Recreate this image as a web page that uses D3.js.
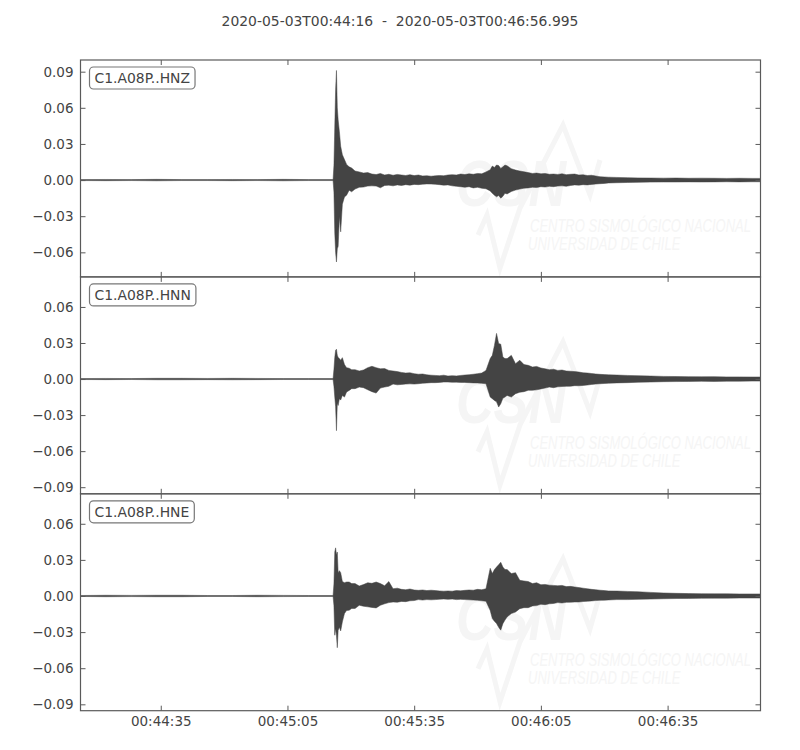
<!DOCTYPE html>
<html>
<head>
<meta charset="utf-8">
<script src="https://cdn.jsdelivr.net/npm/d3@7"></script>
<style>
body { margin: 0; background: #fff; }
svg { display: block; font-family: "DejaVu Sans", sans-serif; }
</style>
</head>
<body>
<svg id="chart" width="800" height="750"></svg>
<script>
// time window of the record
const startTime = '2020-05-03T00:44:16'
const endTime = '2020-05-03T00:46:56.995'
const channels = ['C1.A08P..HNZ', 'C1.A08P..HNN', 'C1.A08P..HNE']

const times = [
    0, 6, 12, 18, 24, 30, 36, 42, 48, 54, 59.8,
    60.0, 60.2, 60.4, 60.6, 60.8, 61.0, 61.3, 61.6, 62.0, 62.5, 63.0, 63.6, 64.2,
    65, 66, 67, 68, 69, 70, 71, 72, 73, 74, 75, 76, 77, 78, 79, 80,
    81, 82, 83, 84, 85, 86, 87, 88, 89, 90, 91, 92, 93, 94, 95, 96,
    97, 97.5, 98, 98.5, 99, 99.5, 100, 100.5, 101,
    102, 103, 104, 105, 106, 107, 108, 109, 110, 111, 112, 113,
    114, 115, 116, 117, 118, 119, 120, 121, 122, 123, 124, 125,
    127, 129.5, 132, 135, 138, 141, 144, 147, 150, 153, 156, 159, 161
]

// envelope (max / min) of each component
const hnzMax = [
    0.0004, 0.0005, 0.0004, 0.0006, 0.0004, 0.0004, 0.0005, 0.0004, 0.0006, 0.0004, 0.0004,
    0.012, 0.044, 0.075, 0.091, 0.060, 0.050, 0.040, 0.028, 0.021, 0.017, 0.013, 0.011, 0.010,
    0.0075, 0.0068, 0.0058, 0.0062, 0.0050, 0.0046, 0.0055, 0.0042, 0.0048, 0.0040, 0.0047, 0.0042, 0.0038, 0.0045, 0.0037, 0.0042,
    0.0034, 0.0036, 0.0032, 0.0035, 0.0038, 0.0036, 0.0042, 0.0045, 0.0042, 0.0050, 0.0046, 0.0052, 0.0048, 0.0055, 0.0052, 0.0068,
    0.0085, 0.0116, 0.0105, 0.0125, 0.0120, 0.0097, 0.0110, 0.0125, 0.0118,
    0.0095, 0.0083, 0.0075, 0.0069, 0.0062, 0.0055, 0.0058, 0.0052, 0.0055, 0.0048, 0.0050, 0.0047,
    0.0052, 0.0045, 0.0048, 0.0050, 0.0042, 0.0044, 0.0038, 0.0040, 0.0034, 0.0028, 0.0026, 0.0024,
    0.0022, 0.0020, 0.0018, 0.0017, 0.0016, 0.0017, 0.0015, 0.0016, 0.0015, 0.0014, 0.0015, 0.0014, 0.0014
]
const hnzMin = [
    -0.0004, -0.0005, -0.0004, -0.0006, -0.0004, -0.0004, -0.0005, -0.0004, -0.0006, -0.0004, -0.0004,
    -0.010, -0.044, -0.060, -0.068, -0.057, -0.055, -0.030, -0.043, -0.020, -0.014, -0.0125, -0.0085, -0.0097,
    -0.0075, -0.0060, -0.0058, -0.0050, -0.0048, -0.0050, -0.0064, -0.0045, -0.0042, -0.0048, -0.0040, -0.0045, -0.0038, -0.0042, -0.0036, -0.0038,
    -0.0034, -0.0032, -0.0033, -0.0035, -0.0038, -0.0042, -0.0040, -0.0048, -0.0052, -0.0055, -0.0060, -0.0055, -0.0065, -0.0060, -0.0068, -0.0072,
    -0.0090, -0.0110, -0.0125, -0.0139, -0.0128, -0.0150, -0.0135, -0.0110, -0.0115,
    -0.0095, -0.0083, -0.0075, -0.0067, -0.0065, -0.0060, -0.0062, -0.0055, -0.0058, -0.0052, -0.0055, -0.0050,
    -0.0048, -0.0052, -0.0045, -0.0040, -0.0042, -0.0038, -0.0040, -0.0036, -0.0033, -0.0030, -0.0028, -0.0024,
    -0.0022, -0.0020, -0.0019, -0.0017, -0.0016, -0.0016, -0.0015, -0.0016, -0.0015, -0.0014, -0.0015, -0.0014, -0.0014
]
const hnnMax = [
    0.0004, 0.0005, 0.0004, 0.0006, 0.0006, 0.0005, 0.0006, 0.0005, 0.0004, 0.0004, 0.0004,
    0.008, 0.018, 0.024, 0.0248, 0.0197, 0.018, 0.017, 0.0156, 0.0178, 0.012, 0.0095, 0.009, 0.0078,
    0.0078, 0.0067, 0.0075, 0.0095, 0.0106, 0.0095, 0.0085, 0.0087, 0.0072, 0.0067, 0.0062, 0.0055, 0.0050, 0.0052, 0.0045, 0.0040,
    0.0042, 0.0035, 0.0032, 0.0030, 0.0028, 0.0032, 0.0025, 0.0028, 0.0026, 0.0030, 0.0033, 0.0036, 0.0040, 0.0045, 0.0050, 0.0072,
    0.017, 0.0197, 0.028, 0.038, 0.0295, 0.029, 0.0183, 0.017, 0.017,
    0.0197, 0.0128, 0.0156, 0.0120, 0.0114, 0.0100, 0.0105, 0.0092, 0.0085, 0.0078, 0.0082, 0.0072,
    0.0075, 0.0067, 0.0065, 0.0062, 0.0058, 0.0052, 0.0050, 0.0046, 0.0042, 0.0039, 0.0037, 0.0035,
    0.0033, 0.0030, 0.0028, 0.0025, 0.0022, 0.0021, 0.0020, 0.0019, 0.0020, 0.0018, 0.0018, 0.0017, 0.0017
]
const hnnMin = [
    -0.0004, -0.0005, -0.0004, -0.0006, -0.0006, -0.0005, -0.0006, -0.0005, -0.0004, -0.0004, -0.0004,
    -0.006, -0.015, -0.023, -0.043, -0.020, -0.022, -0.0163, -0.0175, -0.0136, -0.015, -0.0108, -0.0095, -0.008,
    -0.0080, -0.0067, -0.0072, -0.0089, -0.0105, -0.0117, -0.0075, -0.0067, -0.0060, -0.0042, -0.0048, -0.0045, -0.0042, -0.0040, -0.0042, -0.0039,
    -0.0035, -0.0033, -0.0030, -0.0030, -0.0028, -0.0025, -0.0025, -0.0027, -0.0026, -0.0028, -0.0028, -0.0030, -0.0032, -0.0033, -0.0036, -0.0039,
    -0.015, -0.0163, -0.0178, -0.019, -0.0233, -0.0205, -0.016, -0.015, -0.0136,
    -0.0150, -0.0122, -0.0110, -0.0105, -0.0094, -0.0094, -0.0090, -0.0082, -0.0075, -0.0067, -0.0072, -0.0065,
    -0.0062, -0.0061, -0.0060, -0.0055, -0.0056, -0.0053, -0.0050, -0.0045, -0.0042, -0.0039, -0.0037, -0.0035,
    -0.0032, -0.0030, -0.0027, -0.0025, -0.0022, -0.0021, -0.0020, -0.0019, -0.0020, -0.0018, -0.0018, -0.0017, -0.0017
]
const hneMax = [
    0.0004, 0.0006, 0.0005, 0.0006, 0.0006, 0.0004, 0.0004, 0.0006, 0.0005, 0.0004, 0.0004,
    0.010, 0.0365, 0.040, 0.034, 0.0365, 0.0194, 0.021, 0.0194, 0.012, 0.0111, 0.0116, 0.0116, 0.0103,
    0.0103, 0.0083, 0.0095, 0.0110, 0.0105, 0.0116, 0.0103, 0.0085, 0.0120, 0.0060, 0.0065, 0.0055, 0.0052, 0.0058, 0.0050, 0.0047,
    0.0050, 0.0045, 0.0048, 0.0045, 0.0042, 0.0040, 0.0042, 0.0040, 0.0045, 0.0043, 0.0047, 0.0050, 0.0048, 0.0055, 0.0052, 0.0060,
    0.023, 0.0186, 0.022, 0.024, 0.026, 0.028, 0.024, 0.022, 0.022,
    0.0186, 0.0194, 0.0130, 0.0125, 0.0120, 0.0103, 0.0110, 0.0094, 0.0096, 0.0090, 0.0088, 0.0085,
    0.0088, 0.0078, 0.0080, 0.0075, 0.0070, 0.0065, 0.0060, 0.0055, 0.0052, 0.0048, 0.0045, 0.0042,
    0.0041, 0.0038, 0.0035, 0.0030, 0.0025, 0.0022, 0.0020, 0.0019, 0.0018, 0.0018, 0.0017, 0.0017, 0.0017
]
const hneMin = [
    -0.0004, -0.0006, -0.0005, -0.0006, -0.0006, -0.0004, -0.0004, -0.0006, -0.0005, -0.0004, -0.0004,
    -0.008, -0.0326, -0.027, -0.033, -0.043, -0.0284, -0.026, -0.029, -0.0215, -0.0146, -0.012, -0.0118, -0.0104,
    -0.0104, -0.0077, -0.0085, -0.0090, -0.0095, -0.0099, -0.0077, -0.0065, -0.0055, -0.0050, -0.0052, -0.0045, -0.0047, -0.0040, -0.0038, -0.0030,
    -0.0034, -0.0030, -0.0032, -0.0030, -0.0027, -0.0025, -0.0028, -0.0026, -0.0030, -0.0028, -0.0030, -0.0032, -0.0034, -0.0036, -0.0040, -0.0044,
    -0.012, -0.0188, -0.021, -0.0229, -0.026, -0.0284, -0.023, -0.020, -0.0174,
    -0.0146, -0.0133, -0.0105, -0.0097, -0.0097, -0.0083, -0.0080, -0.0069, -0.0072, -0.0065, -0.0062, -0.0055,
    -0.0058, -0.0053, -0.0052, -0.0050, -0.0050, -0.0046, -0.0044, -0.0041, -0.0038, -0.0036, -0.0035, -0.0033,
    -0.0030, -0.0030, -0.0028, -0.0026, -0.0023, -0.0021, -0.0020, -0.0019, -0.0018, -0.0018, -0.0017, -0.0017, -0.0017
]

// axis limits and ticks
const yLimits = [[-0.0804, 0.0997], [-0.0955, 0.085], [-0.0953, 0.0849]]
const yTicks = [-0.09, -0.06, -0.03, 0, 0.03, 0.06, 0.09]
const xTickLabels = ['00:44:35', '00:45:05', '00:45:35', '00:46:05', '00:46:35']

const traces = [
    {name: channels[0], max: hnzMax, min: hnzMin},
    {name: channels[1], max: hnnMax, min: hnnMin},
    {name: channels[2], max: hneMax, min: hneMin}
]

let svg = d3.select('#chart')
let left = 80.5
let right = 760.5
let firstTop = 60
let panelH = 216.9
let inkColor = '#444'
let frameColor = '#5a5a5a'
let markColor = '#f5f5f5'

const t0 = new Date(startTime + 'Z')
const t1 = new Date(endTime + 'Z')
const x = d3.scaleUtc().domain([t0, t1]).range([left, right])
const parseTick = d3.utcParse('%Y-%m-%d %H:%M:%S')
const xTickValues = xTickLabels.map(l => parseTick('2020-05-03 ' + l))

svg.append('text')
    .attr('x', 400)
    .attr('y', 26)
    .attr('text-anchor', 'middle')
    .style('white-space', 'pre')
    .attr('font-size', '13.9px')
    .attr('fill', inkColor)
    .text(startTime + '  -  ' + endTime)

function styleAxis(g) {
    g.select('.domain').remove()
    g.selectAll('line').attr('stroke', frameColor)
    g.selectAll('text').attr('fill', inkColor).attr('font-size', '13.5px')
        .attr('font-family', '"DejaVu Sans", sans-serif')
}

traces.forEach((tr, i) => {
    let top = firstTop + i * panelH
    let bottom = top + panelH
    const y = d3.scaleLinear().domain(yLimits[i]).range([bottom, top])
    let ticksIn = yTicks.filter(v => v >= yLimits[i][0] && v <= yLimits[i][1])

    svg.append('clipPath').attr('id', 'clip' + i)
        .append('rect')
        .attr('x', left).attr('y', top)
        .attr('width', right - left).attr('height', panelH)

    // faint CSN watermark behind the trace
    let wm = svg.append('g').attr('transform', `translate(0,${top})`)
    wm.append('path')
        .attr('d', 'M478,175 L487,155 L500,208 L520,148 L563,65 L590,135 L600,100')
        .attr('fill', 'none').attr('stroke', markColor).attr('stroke-width', 5)
    wm.append('text')
        .attr('x', 456).attr('y', 146)
        .attr('font-family', '"Liberation Sans", sans-serif')
        .attr('font-weight', 'bold').attr('font-style', 'italic')
        .attr('font-size', 64)
        .attr('textLength', 110).attr('lengthAdjust', 'spacingAndGlyphs')
        .attr('fill', markColor)
        .text('CSN')
    wm.append('text')
        .attr('transform', 'translate(530,172) scale(1,1.35)')
        .attr('font-family', '"Liberation Sans", sans-serif')
        .attr('font-style', 'italic').attr('font-size', 13)
        .attr('fill', markColor)
        .text('CENTRO SISMOLÓGICO NACIONAL')
    wm.append('text')
        .attr('transform', 'translate(528,190) scale(1,1.35)')
        .attr('font-family', '"Liberation Sans", sans-serif')
        .attr('font-style', 'italic').attr('font-size', 13)
        .attr('fill', markColor)
        .text('UNIVERSIDAD DE CHILE')

    // waveform envelope
    let pts = times.map((t, k) => ({time: new Date(t0.getTime() + t * 1000), max: tr.max[k], min: tr.min[k]}))
    const area = d3.area()
        .x(d => x(d.time))
        .y0(d => y(d.min))
        .y1(d => y(d.max))
    svg.append('path')
        .datum(pts)
        .attr('clip-path', `url(#clip${i})`)
        .attr('d', area)
        .attr('fill', inkColor)
        .attr('stroke', inkColor)
        .attr('stroke-width', 0.5)

    // axes with inward ticks on all four sides
    svg.append('g')
        .attr('transform', `translate(${left},0)`)
        .call(d3.axisLeft(y).tickValues(ticksIn).tickSize(-5).tickPadding(7).tickFormat(d3.format('.2f')))
        .call(styleAxis)
    svg.append('g')
        .attr('transform', `translate(${right},0)`)
        .call(d3.axisRight(y).tickValues(ticksIn).tickSize(-5).tickFormat(''))
        .call(styleAxis)
    svg.append('g')
        .attr('transform', `translate(0,${top})`)
        .call(d3.axisTop(x).tickValues(xTickValues).tickSize(-5).tickFormat(''))
        .call(styleAxis)
    let isLast = i === traces.length - 1
    svg.append('g')
        .attr('transform', `translate(0,${bottom})`)
        .call(d3.axisBottom(x).tickValues(xTickValues).tickSize(-5).tickPadding(6)
            .tickFormat(isLast ? d3.utcFormat('%H:%M:%S') : ''))
        .call(styleAxis)

    svg.append('rect')
        .attr('x', left).attr('y', top)
        .attr('width', right - left).attr('height', panelH)
        .attr('fill', 'none')
        .attr('stroke', frameColor)
        .attr('stroke-width', 1.2)

    // channel label box
    let lab = svg.append('g')
    let txt = lab.append('text')
        .attr('x', 94.5).attr('y', top + 23)
        .attr('font-size', '13.9px')
        .attr('fill', inkColor)
        .text(tr.name)
    let w = txt.node().getComputedTextLength()
    lab.insert('rect', 'text')
        .attr('x', 89.5).attr('y', top + 7)
        .attr('width', w + 10).attr('height', 22)
        .attr('rx', 4).attr('ry', 4)
        .attr('fill', '#fff')
        .attr('stroke', '#777')
        .attr('stroke-width', 1.2)
})
</script>
</body>
</html>
